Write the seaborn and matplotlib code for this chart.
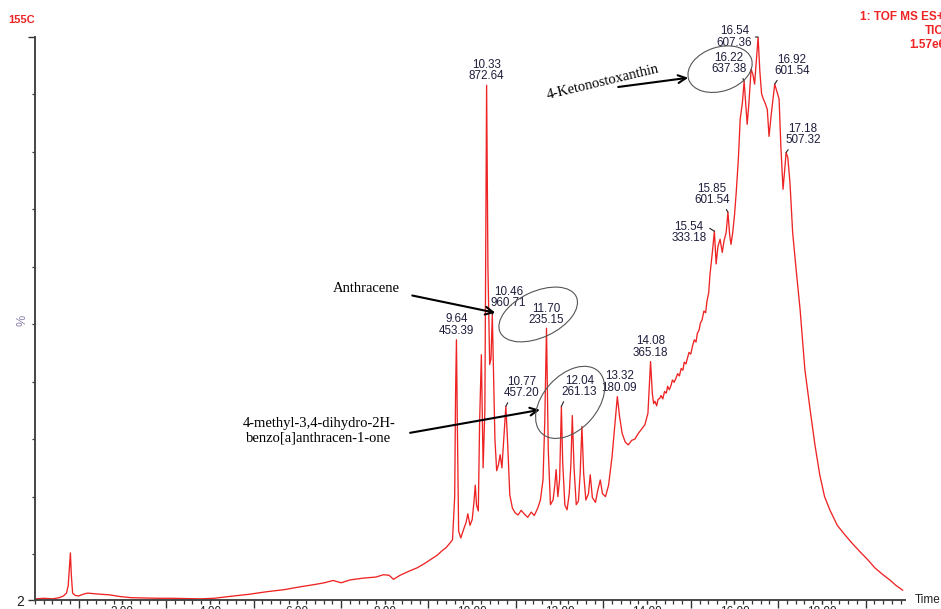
import numpy as np
import pandas as pd
import matplotlib
matplotlib.use("Agg")
import matplotlib.pyplot as plt
import seaborn as sns
from matplotlib.patches import Ellipse
from matplotlib import transforms
from matplotlib.ticker import MultipleLocator

# ---- total ion chromatogram, split into retention-time windows ----
# retention time in min, relative intensity in %
rt_early = [0.00, 0.20, 0.40, 0.55, 0.65, 0.72, 0.76, 0.79, 0.81, 0.83, 0.86, 0.92, 1.00,
            1.10, 1.20, 1.35, 1.50, 1.70, 1.95, 2.20, 2.50, 2.80, 3.10, 3.40, 3.78, 4.10,
            4.54, 4.90, 5.31, 5.70, 6.07, 6.40, 6.62, 6.82, 7.00, 7.21, 7.50, 7.80, 7.97,
            8.10, 8.20, 8.35, 8.55, 8.74, 8.90, 9.04, 9.20, 9.30, 9.40, 9.48, 9.55]
pct_early = [2.2, 2.3, 2.2, 2.4, 2.7, 3.2, 4.5, 8.0, 10.2, 6.5, 3.2, 2.8, 2.7,
             3.0, 3.2, 3.1, 3.0, 2.9, 2.6, 2.4, 2.35, 2.3, 2.3, 2.25, 2.2, 2.3,
             2.7, 3.0, 3.45, 3.8, 4.3, 4.7, 5.0, 5.4, 5.0, 5.5, 5.8, 6.0, 6.4,
             6.3, 5.6, 6.3, 7.0, 7.6, 8.3, 9.0, 9.8, 10.5, 11.1, 11.8, 12.5]

rt_pah = [9.60, 9.62, 9.64, 9.66, 9.69, 9.74, 9.80, 9.86, 9.90, 9.95, 10.00, 10.04, 10.07,
          10.10, 10.14, 10.17, 10.21, 10.25, 10.29, 10.33, 10.36, 10.40, 10.43, 10.46, 10.49,
          10.52, 10.56, 10.60, 10.64, 10.68, 10.73, 10.77, 10.81, 10.86, 10.92, 10.98, 11.05,
          11.12, 11.20, 11.27, 11.35, 11.42, 11.50, 11.56]
pct_pah = [20.0, 38.0, 47.3, 33.0, 14.0, 12.8, 14.2, 15.5, 17.0, 15.0, 16.0, 19.0, 22.0,
           18.5, 17.5, 33.0, 44.7, 25.0, 35.0, 91.6, 60.0, 43.0, 44.0, 51.7, 40.5,
           30.0, 24.5, 25.5, 27.3, 25.0, 31.0, 35.7, 29.5, 20.3, 18.0, 17.2, 16.8,
           17.6, 16.9, 16.4, 17.3, 16.7, 18.0, 19.4]

rt_mid = [11.62, 11.66, 11.70, 11.74, 11.79, 11.85, 11.89, 11.92, 11.96, 12.00, 12.04, 12.07,
          12.12, 12.17, 12.22, 12.26, 12.29, 12.33, 12.38, 12.43, 12.47, 12.51, 12.55, 12.60,
          12.66, 12.70, 12.75, 12.82, 12.87, 12.93, 12.98, 13.05, 13.12, 13.20, 13.27, 13.32,
          13.37, 13.43, 13.50, 13.57, 13.65, 13.72, 13.80, 13.88, 13.95]
pct_mid = [22.9, 33.0, 49.3, 28.2, 18.6, 19.4, 22.0, 24.7, 20.0, 23.0, 35.7, 26.0,
           18.5, 17.7, 20.5, 26.0, 34.1, 25.0, 18.6, 19.2, 24.0, 32.2, 24.0, 19.4,
           20.5, 23.8, 19.8, 19.0, 21.0, 22.9, 20.5, 20.0, 22.0, 27.0, 33.0, 37.4,
           34.0, 31.0, 29.5, 29.0, 29.8, 30.0, 31.0, 31.8, 32.5]

rt_rise = [14.02, 14.08, 14.12, 14.15, 14.18, 14.22, 14.25, 14.29, 14.32, 14.36, 14.40, 14.44,
           14.47, 14.51, 14.55, 14.58, 14.62, 14.66, 14.70, 14.74, 14.78, 14.82, 14.85, 14.89,
           14.92, 14.96, 15.00, 15.04, 15.08, 15.12, 15.15, 15.19, 15.22, 15.26, 15.30, 15.34,
           15.37, 15.41, 15.44, 15.50]
pct_rise = [34.5, 43.5, 38.0, 36.2, 36.6, 35.8, 36.9, 37.1, 37.6, 37.0, 38.3, 38.0,
            39.2, 38.6, 39.4, 40.3, 39.9, 40.6, 41.4, 41.0, 42.3, 42.0, 43.4, 43.1,
            44.0, 45.1, 44.8, 46.2, 47.3, 46.9, 48.4, 49.0, 50.2, 50.8, 52.3, 52.0,
            54.0, 55.5, 58.7, 63.0]

rt_late = [15.54, 15.58, 15.62, 15.67, 15.72, 15.76, 15.81, 15.85, 15.89, 15.92, 15.96, 16.00,
           16.04, 16.09, 16.13, 16.18, 16.22, 16.26, 16.29, 16.33, 16.38, 16.42, 16.46, 16.50,
           16.54, 16.58, 16.62, 16.66, 16.70, 16.75, 16.79, 16.84, 16.88, 16.92, 16.97, 17.02,
           17.06, 17.11, 17.15, 17.18, 17.22, 17.27, 17.33, 17.41, 17.50, 17.61, 17.73, 17.84,
           17.95, 18.06, 18.18, 18.35, 18.53, 18.70, 18.87, 19.05, 19.21, 19.38, 19.55, 19.70,
           19.85]
pct_late = [66.2, 60.5, 63.5, 64.8, 62.5, 64.5, 66.0, 69.5, 65.5, 63.9, 66.0, 69.0,
            73.0, 79.0, 85.7, 88.5, 92.3, 88.0, 84.8, 88.5, 94.4, 93.5, 91.8, 96.0,
            100.0, 94.0, 90.1, 89.2, 88.5, 87.4, 82.7, 86.5, 89.2, 91.8, 90.5, 89.2,
            81.0, 73.5, 77.0, 79.9, 79.0, 74.5, 66.0, 59.5, 52.6, 42.1, 35.1, 29.0,
            23.8, 20.0, 17.7, 15.0, 13.3, 11.8, 10.4, 9.0, 7.6, 6.5, 5.5, 4.5,
            3.7]

# ---- labelled peaks: retention time and base m/z ----
peak_rt = [9.64, 10.33, 10.46, 10.77, 11.70, 12.04, 13.32, 14.08,
           15.54, 15.85, 16.22, 16.54, 16.92, 17.18]
peak_mz = ["453.39", "872.64", "960.71", "457.20", "235.15", "261.13", "180.09", "365.18",
           "333.18", "601.54", "637.38", "607.36", "601.54", "507.32"]

x_tick_values = [2, 4, 6, 8, 10, 12, 14, 16, 18]
x_tick_labels = ["2.00", "4.00", "6.00", "8.00", "10.00", "12.00", "14.00", "16.00", "18.00"]

trace = pd.DataFrame({
    "rt": rt_early + rt_pah + rt_mid + rt_rise + rt_late,
    "pct": pct_early + pct_pah + pct_mid + pct_rise + pct_late,
})

sns.set_theme(style="white")
plt.rcParams["font.family"] = ["Liberation Sans", "DejaVu Sans"]

RED = "#ee2424"
INK = "#1e1e3c"

fig = plt.figure(figsize=(9.41, 6.09), dpi=100)
W, H = 941.0, 609.0
ax = fig.add_axes([35 / W, 9 / H, (905 - 35) / W, (600 - 37) / H])

sns.lineplot(data=trace, x="rt", y="pct", ax=ax, color=RED, linewidth=0.95,
             estimator=None, sort=False)

ax.set_xlim(0, 19.9)
ax.set_ylim(2, 100)
ax.set_xlabel("")
ax.set_ylabel("")
sns.despine(ax=ax)
for side in ("left", "bottom"):
    ax.spines[side].set_color("#454545")
    ax.spines[side].set_linewidth(1.4)

# x axis: tall ticks at odd minutes, small ticks every 0.2 min
ax.set_xticks(np.arange(1, 20, 2))
ax.set_xticklabels([])
ax.xaxis.set_minor_locator(MultipleLocator(0.2))
ax.tick_params(axis="x", which="major", bottom=True, direction="out", length=6,
               width=1.0, color="#333333")
ax.tick_params(axis="x", which="minor", bottom=True, direction="out", length=3,
               width=0.9, color="#333333")

# labelled even-minute ticks
sec = ax.secondary_xaxis("bottom")
sec.set_xticks(x_tick_values)
sec.set_xticklabels(x_tick_labels)
sec.tick_params(axis="x", length=3, width=0.9, pad=1, labelsize=8.5,
                color="#333333", labelcolor="#222222")
sec.spines["bottom"].set_visible(False)

# y axis: scale from 2 % to 100 %
ax.set_yticks([2, 100])
ax.set_yticklabels(["2", ""])
ax.yaxis.set_minor_locator(MultipleLocator(10))
ax.tick_params(axis="y", which="major", left=True, direction="out", length=5,
               width=1.0, color="#333333", labelsize=10, labelcolor="#222222", pad=3)
ax.tick_params(axis="y", which="minor", left=True, direction="out", length=2.5,
               width=0.9, color="#333333")

# peak labels: (dx, dy) offset in pixels, alignment, leader anchor on the text
peak_offsets = {
    9.64: (0, 3, "center", "bottom", None),
    10.33: (0, 3, "center", "bottom", None),
    10.46: (16, 5, "center", "bottom", (0.1, 0.0)),
    10.77: (16, 7, "center", "bottom", (0.15, 0.0)),
    11.70: (0, 2, "center", "bottom", None),
    12.04: (18, 8, "center", "bottom", (0.1, 0.0)),
    13.32: (2, 3, "center", "bottom", None),
    14.08: (0, 3, "center", "bottom", None),
    15.54: (-8, -1, "right", "center", (1.0, 0.75)),
    15.85: (-16, 6, "center", "bottom", (0.85, 0.0)),
    16.22: (-15, 6, "center", "bottom", (0.85, 0.0)),
    16.54: (-6, 0, "right", "center", (1.0, 0.5)),
    16.92: (17, 7, "center", "bottom", (0.15, 0.0)),
    17.18: (17, 6, "center", "bottom", (0.15, 0.0)),
}
for rt, mz in zip(peak_rt, peak_mz):
    y = trace.loc[(trace["rt"] - rt).abs().idxmin(), "pct"]
    dx, dy, ha, va, rel = peak_offsets[rt]
    arrow = None
    if rel is not None:
        arrow = dict(arrowstyle="-", color="#222222", lw=0.8, shrinkA=0, shrinkB=0,
                     relpos=rel)
    ax.annotate(f"{rt:.2f}\n{mz}", xy=(rt, y), xytext=(dx, dy), textcoords="offset pixels",
                ha=ha, va=va, fontsize=8.4, color=INK, linespacing=0.92,
                multialignment="center", arrowprops=arrow, annotation_clip=False)

# compound call-outs
SERIF = ["Liberation Serif", "DejaVu Serif"]
arrow_kw = dict(arrowstyle="->", lw=1.5, color="black", mutation_scale=14,
                shrinkA=0, shrinkB=0)

keto_tail, keto_tip = (13.34, 91.3), (14.94, 92.9)
ax.annotate("", xy=keto_tip, xytext=keto_tail, arrowprops=arrow_kw, annotation_clip=False)
ax.annotate("4-Ketonostoxanthin", xy=keto_tail, xytext=(-70, -12), textcoords="offset pixels",
            ha="left", va="baseline", rotation=13.5, rotation_mode="anchor",
            fontsize=10.5, family=SERIF, color="black", annotation_clip=False)

anth_tail, anth_tip = (8.63, 55.0), (10.53, 52.0)
ax.annotate("", xy=anth_tip, xytext=anth_tail, arrowprops=arrow_kw, annotation_clip=False)
ax.annotate("Anthracene", xy=anth_tail, xytext=(-12, 7), textcoords="offset pixels",
            ha="right", va="center", fontsize=10.5, family=SERIF, color="black",
            annotation_clip=False)

meth_tail, meth_tip = (8.58, 31.1), (11.55, 35.1)
ax.annotate("", xy=meth_tip, xytext=meth_tail, arrowprops=arrow_kw, annotation_clip=False)
ax.annotate("4-methyl-3,4-dihydro-2H-\nbenzo[a]anthracen-1-one", xy=meth_tail,
            xytext=(-15, 2), textcoords="offset pixels", ha="right", va="center",
            multialignment="center", linespacing=1.15, fontsize=10.5, family=SERIF,
            color="black", annotation_clip=False)

# ellipses drawn in inches around data-anchored centres
for (cx, cy), w_px, h_px, ang in [((15.67, 94.4), 66, 44, 18),
                                   ((11.51, 51.7), 84, 46, 25),
                                   ((12.24, 36.4), 84, 54, 48)]:
    tr = fig.dpi_scale_trans + transforms.ScaledTranslation(cx, cy, ax.transData)
    fig.add_artist(Ellipse((0, 0), w_px / 100, h_px / 100, angle=ang, transform=tr,
                           fill=False, edgecolor="#555555", lw=0.8))

# header and axis captions
fig.text(8 / W, 1 - 20 / H, "155C", color=RED, fontsize=8, fontweight="bold", va="center")
fig.text(944 / W, 1 - 17 / H, "1: TOF MS ES+", color=RED, fontsize=8.5, fontweight="bold",
         ha="right", va="center")
fig.text(944 / W, 1 - 31 / H, "TIC", color=RED, fontsize=8.5, fontweight="bold",
         ha="right", va="center")
fig.text(945 / W, 1 - 45 / H, "1.57e6", color=RED, fontsize=8.5, fontweight="bold",
         ha="right", va="center")
fig.text(22 / W, 1 - 320 / H, "%", color="#8a7ea8", fontsize=9, rotation=90,
         ha="center", va="center")
fig.text(915 / W, 1 - 600 / H, "Time", color="#222222", fontsize=8.5, ha="left",
         va="center")

fig.savefig("out.png", dpi=100)
